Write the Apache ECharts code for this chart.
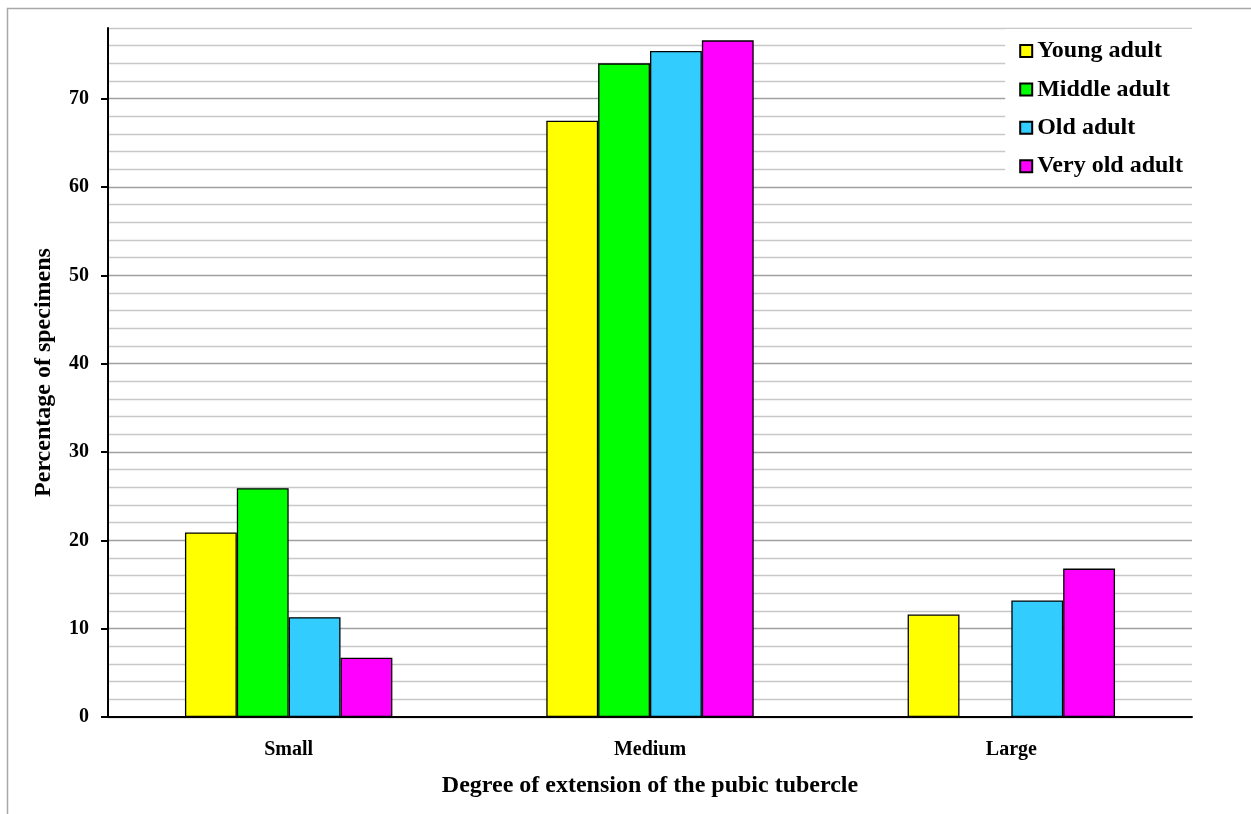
<!DOCTYPE html>
<html>
<head>
<meta charset="utf-8">
<script src="https://cdn.jsdelivr.net/npm/echarts@6/dist/echarts.min.js"></script>
<style>html,body{margin:0;padding:0;background:#fff}#c{width:1251px;height:814px}</style>
</head>
<body>
<div id="c"></div>
<script>
const categories = ['Small', 'Medium', 'Large'];
const seriesNames = ['Young adult', 'Middle adult', 'Old adult', 'Very old adult'];
const youngAdult = [20.9, 67.5, 11.6];
const middleAdult = [25.9, 74.0, 0];
const oldAdult = [11.3, 75.4, 13.2];
const veryOldAdult = [6.7, 76.6, 16.8];
const yTickLabels = [0, 10, 20, 30, 40, 50, 60, 70];
const colors = ['#ffff00', '#00ff00', '#33ccff', '#ff00ff'];
const seriesData = [youngAdult, middleAdult, oldAdult, veryOldAdult];

const serif = '"Liberation Serif", "Times New Roman", serif';
const chart = echarts.init(document.getElementById('c'));
chart.setOption({
  animation: false,
  backgroundColor: '#fff',
  graphic: [{
    type: 'rect', silent: true, z: -10,
    shape: {x: 7.5, y: 8.5, width: 1300, height: 900},
    style: {fill: 'none', stroke: '#a8a8a8', lineWidth: 1.5}
  }],
  grid: {left: 108, right: 59, top: 28, bottom: 97},
  legend: {
    data: seriesNames,
    orient: 'vertical',
    right: 59, top: 29,
    backgroundColor: '#fff',
    padding: [10, 9, 7, 14],
    itemWidth: 12, itemHeight: 12,
    itemGap: 14.4,
    icon: 'rect',
    textStyle: {fontFamily: serif, fontWeight: 'bold', fontSize: 24, color: '#000'}
  },
  xAxis: {
    type: 'category',
    data: categories,
    name: 'Degree of extension of the pubic tubercle',
    nameLocation: 'middle',
    nameGap: 57,
    nameTextStyle: {fontFamily: serif, fontWeight: 'bold', fontSize: 24, color: '#000'},
    axisLine: {lineStyle: {color: '#000', width: 2}},
    axisTick: {show: false},
    axisLabel: {fontFamily: serif, fontWeight: 'bold', fontSize: 20, color: '#000', margin: 23}
  },
  yAxis: [{
    type: 'value',
    min: 0, max: 78, interval: 2,
    axisLine: {show: false},
    axisTick: {show: false},
    axisLabel: {show: false},
    splitLine: {show: true, lineStyle: {color: ['#a0a0a0', '#c8c8c8', '#c8c8c8', '#c8c8c8', '#c8c8c8'], width: 1.3}}
  }, {
    type: 'value',
    position: 'left',
    min: 0, max: 78, interval: 2,
    name: 'Percentage of specimens',
    nameLocation: 'middle',
    nameGap: 52,
    nameTextStyle: {fontFamily: serif, fontWeight: 'bold', fontSize: 24, color: '#000'},
    axisLine: {show: true, lineStyle: {color: '#000', width: 2}},
    axisTick: {show: true, customValues: yTickLabels, length: 7, lineStyle: {color: '#000', width: 2}},
    axisLabel: {customValues: yTickLabels, fontFamily: serif, fontWeight: 'bold', fontSize: 20, color: '#000', margin: 19},
    splitLine: {show: false}
  }],
  series: seriesNames.map((n, i) => ({
    name: n,
    type: 'bar',
    data: seriesData[i],
    barGap: '0%',
    barCategoryGap: '42.6%',
    itemStyle: {color: colors[i], borderColor: '#000', borderWidth: 1.3}
  }))
});
</script>
</body>
</html>
